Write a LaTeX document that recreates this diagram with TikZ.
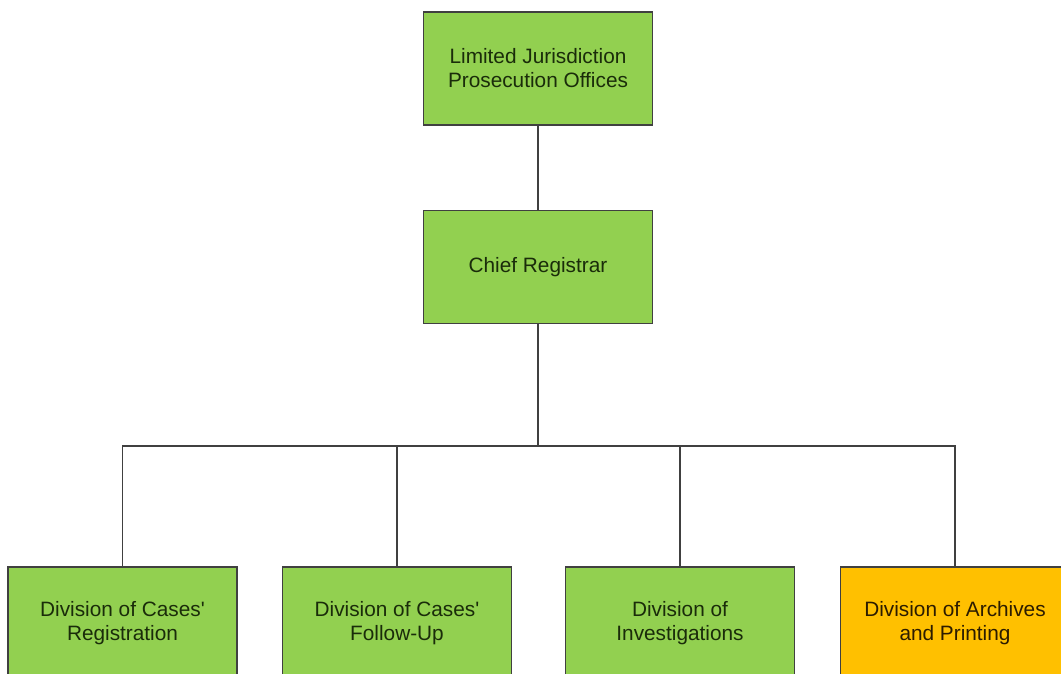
\documentclass[tikz,border=0pt]{standalone}
\usepackage{fontspec}
\setmainfont{Liberation Sans}
\definecolor{boxgreen}{HTML}{92D050}
\definecolor{boxorange}{HTML}{FFC000}
\definecolor{edge}{HTML}{404040}
\definecolor{inkgreen}{HTML}{1A2C0A}
\definecolor{inkbrown}{HTML}{2C1C00}
\begin{document}
\begin{tikzpicture}[x=0.75pt,y=-0.75pt,
  unit/.style={draw=edge,line width=1.1pt,fill=boxgreen,text=inkgreen,
    minimum width=172pt,minimum height=84.5pt,inner sep=2pt,align=center,
    font=\fontsize{15.6}{18}\selectfont},
  archive/.style={unit,fill=boxorange,text=inkbrown},
  link/.style={draw=edge,line width=1.1pt}]
\useasboundingbox (0,0) rectangle (1061,674);
\clip (0,0) rectangle (1061,674);
\fill[white] (0,0) rectangle (1061,674);

% top of the hierarchy
\node[unit] (ljpo) at (538,68.5) {Limited Jurisdiction\\Prosecution Offices};
\node[unit] (chief) at (538,267) {Chief Registrar};

% divisions under the chief registrar
\node[unit] (reg) at (122.5,623.5) {Division of Cases\textquotesingle\\Registration};
\node[unit] (fol) at (397,623.5) {Division of Cases\textquotesingle\\Follow-Up};
\node[unit] (inv) at (680,623.5) {Division of\\Investigations};
\node[archive] (arc) at (955,623.5) {Division of Archives\\and Printing};

% connectors
\coordinate (bus) at (538,446);
\draw[link] (ljpo) -- (chief);
\draw[link] (chief) -- (bus);
\draw[link] (reg.north) |- (arc.north |- bus) -- (arc.north);
\draw[link] (fol.north) -- (fol.north |- bus);
\draw[link] (inv.north) -- (inv.north |- bus);
\end{tikzpicture}
\end{document}
